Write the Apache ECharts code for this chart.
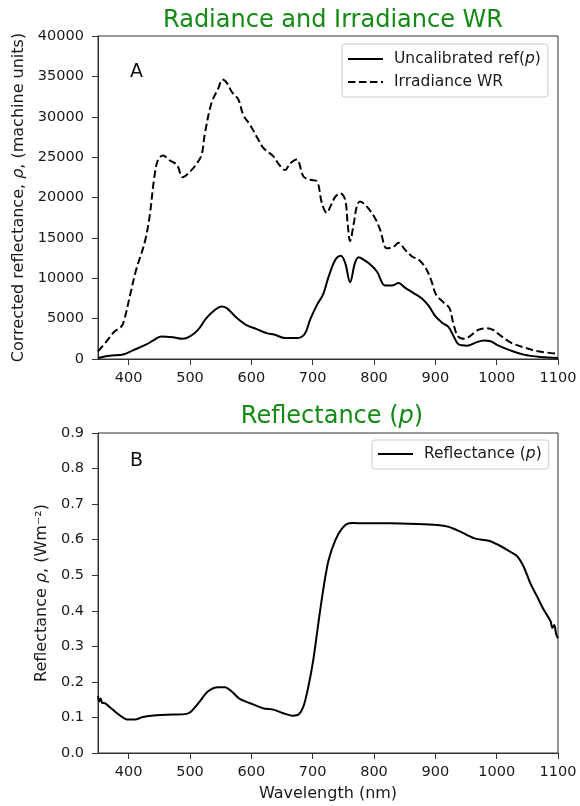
<!DOCTYPE html>
<html>
<head>
<meta charset="utf-8">
<script src="https://cdn.jsdelivr.net/npm/echarts@6/dist/echarts.min.js"></script>
<style>
html,body{margin:0;padding:0;background:#fff;}
#chart{width:580px;height:806px;}
</style>
</head>
<body>
<div id="chart"></div>
<script>
// ---- Data ----
const xTicks = [400, 500, 600, 700, 800, 900, 1000, 1100];

// Panel A: Uncalibrated ref(p) (solid)
const uncalWave = [350,369,391,407,429,440,453,472,488,500,513,527,541,551,560,576,592,609,625,638,655,674,687,696,707,717,726,737,746,753,761,769,775,783,794,805,818,829,840,851,864,878,889,900,911,921,930,938,952,965,979,990,1003,1022,1044,1071,1100];
const uncalVals = [120,400,550,1070,1800,2300,2800,2700,2500,2800,3600,5100,6100,6500,6300,5100,4200,3700,3200,3000,2600,2600,3100,4900,6700,8000,10200,12300,12800,11900,9500,11900,12600,12300,11700,10800,9100,9100,9400,8800,8200,7500,6600,5300,4500,4000,2800,1800,1650,2000,2300,2200,1650,1070,540,250,120];

// Panel A: Irradiance WR (dashed)
const irrWave = [350,364,377,388,393,402,412,426,434,442,448,456,467,479,488,500,511,519,524,535,546,553,560,568,579,587,598,609,620,636,644,655,663,674,685,696,707,715,723,729,737,745,753,757,761,767,772,777,788,802,810,821,832,840,851,862,873,884,893,901,912,923,929,937,948,956,970,983,994,1008,1024,1046,1068,1100];
const irrVals = [950,2200,3400,4000,4900,7800,11000,14400,17600,22600,24700,25200,24600,24000,22500,23200,24200,25300,27800,31700,33500,34600,34200,33100,32100,30200,29000,27500,26100,25100,24200,23400,24200,24700,22600,22200,22000,19300,18100,18900,20100,20500,19700,16800,14600,16800,18900,19500,18900,17400,16000,13700,13900,14400,13500,12700,12300,11300,9800,8000,7100,6300,4500,2800,2500,2800,3600,3800,3600,2800,2000,1400,950,650];

// Panel B: Reflectance (p)
const reflWave = [350,352,354,357,361,374,388,399,410,423,445,472,494,502,516,529,546,557,568,581,598,619,636,652,668,677,685,693,701,710,718,726,737,748,759,767,783,826,870,903,922,935,952,965,987,1003,1019,1033,1044,1055,1066,1077,1085,1088,1091,1094,1097,1100];
const reflVals = [0.160,0.145,0.153,0.141,0.140,0.122,0.103,0.094,0.094,0.101,0.106,0.108,0.110,0.117,0.145,0.173,0.185,0.185,0.173,0.152,0.140,0.126,0.122,0.112,0.105,0.108,0.131,0.187,0.262,0.374,0.468,0.543,0.599,0.632,0.646,0.647,0.646,0.646,0.644,0.641,0.636,0.627,0.613,0.603,0.597,0.585,0.569,0.554,0.524,0.477,0.440,0.402,0.380,0.370,0.352,0.360,0.334,0.323];

const yTicksA = {min: 0, max: 40000, interval: 5000};
const yTicksB = {min: 0, max: 0.9, interval: 0.1};

// ---- Chart ----
const pair = (xs, ys) => xs.map((x, i) => [x, ys[i]]);
const FONT = 'DejaVu Sans';
const TXT = '#1a1a1a';
const GREEN = '#138a13';
const TICK_FS = 14.5;
const LAB_FS = 16;
const LEG_FS = 15.5;

const chart = echarts.init(document.getElementById('chart'), null, {renderer: 'canvas'});

function xAxisFor(gridIndex, withName) {
  return {
    type: 'value', gridIndex, min: 350, max: 1100,
    splitLine: {show: false},
    axisLine: {show: true, lineStyle: {color: '#333', width: 1}},
    axisTick: {show: true, length: 6, lineStyle: {color: '#333'}, customValues: xTicks},
    axisLabel: {color: TXT, fontFamily: FONT, fontSize: TICK_FS, margin: 12, customValues: xTicks,
      formatter: v => String(v)},
    name: withName ? 'Wavelength (nm)' : '',
    nameLocation: 'middle', nameGap: 33,
    nameTextStyle: {color: TXT, fontFamily: FONT, fontSize: LAB_FS}
  };
}

function yAxisFor(gridIndex, range, fmt, name, gap) {
  return {
    type: 'value', gridIndex, min: range.min, max: range.max, interval: range.interval,
    splitLine: {show: false},
    axisLine: {show: true, lineStyle: {color: '#333'}},
    axisTick: {show: true, length: 6, lineStyle: {color: '#333'}},
    axisLabel: {color: TXT, fontFamily: FONT, fontSize: TICK_FS, margin: 14, formatter: fmt},
    name, nameLocation: 'middle', nameGap: gap,
    nameTextStyle: {color: TXT, fontFamily: FONT, fontSize: LAB_FS,
      rich: {i: {fontStyle: 'italic', color: TXT, fontFamily: FONT, fontSize: LAB_FS}}}
  };
}

const legendText = {color: TXT, fontFamily: FONT, fontSize: LEG_FS, padding: [0, 0, 0, 6],
  rich: {i: {fontStyle: 'italic', color: TXT, fontFamily: FONT, fontSize: LEG_FS}}};

const option = {
  animation: false,
  backgroundColor: '#fff',
  title: [
    {text: 'Radiance and Irradiance WR', left: 328, top: 4, textAlign: 'center',
     textStyle: {color: GREEN, fontFamily: FONT, fontSize: 24, fontWeight: 'normal'}},
    {text: 'Reflectance ({i|p})', left: 327, top: 400, textAlign: 'center',
     textStyle: {color: GREEN, fontFamily: FONT, fontSize: 24, fontWeight: 'normal',
       rich: {i: {fontStyle: 'italic', color: GREEN, fontFamily: FONT, fontSize: 24}}}},
    {text: 'A', left: 125, top: 58, textStyle: {color: '#111', fontFamily: FONT, fontSize: 19, fontWeight: 'normal'}},
    {text: 'B', left: 125, top: 447, textStyle: {color: '#111', fontFamily: FONT, fontSize: 19, fontWeight: 'normal'}}
  ],
  grid: [
    {left: 98, top: 36, width: 460, height: 323, show: true, borderColor: '#333', borderWidth: 1, backgroundColor: 'transparent'},
    {left: 98, top: 433, width: 460, height: 320, show: true, borderColor: '#333', borderWidth: 1, backgroundColor: 'transparent'}
  ],
  xAxis: [xAxisFor(0, false), xAxisFor(1, true)],
  yAxis: [
    yAxisFor(0, yTicksA, v => String(v), 'Corrected reflectance, {i|ρ}, (machine units)', 65),
    yAxisFor(1, yTicksB, v => v.toFixed(1), 'Reflectance {i|ρ}, (Wm⁻²)', 44)
  ],
  legend: [
    {data: ['Uncalibrated ref(p)', 'Irradiance WR'], orient: 'vertical', left: 342, top: 44,
     padding: [7, 7, 7, 5], itemGap: 7, itemWidth: 35, itemHeight: 14,
     itemStyle: {opacity: 0},
     backgroundColor: '#fff', borderColor: '#ccc', borderWidth: 1, borderRadius: 3,
     formatter: n => n === 'Uncalibrated ref(p)' ? 'Uncalibrated ref({i|p})' : n,
     textStyle: legendText},
    {data: ['Reflectance (p)'], orient: 'vertical', left: 372, top: 440,
     padding: [6, 7, 7, 5], itemWidth: 35, itemHeight: 14,
     itemStyle: {opacity: 0},
     backgroundColor: '#fff', borderColor: '#ccc', borderWidth: 1, borderRadius: 3,
     formatter: () => 'Reflectance ({i|p})',
     textStyle: legendText}
  ],
  series: [
    {name: 'Uncalibrated ref(p)', type: 'line', xAxisIndex: 0, yAxisIndex: 0,
     data: pair(uncalWave, uncalVals), smooth: 0.35, symbol: 'none',
     lineStyle: {color: '#000', width: 2}, itemStyle: {color: '#000'}},
    {name: 'Irradiance WR', type: 'line', xAxisIndex: 0, yAxisIndex: 0,
     data: pair(irrWave, irrVals), smooth: 0.35, symbol: 'none',
     lineStyle: {color: '#000', width: 2, type: [7.5, 3.5]}, itemStyle: {color: '#000'}},
    {name: 'Reflectance (p)', type: 'line', xAxisIndex: 1, yAxisIndex: 1,
     data: pair(reflWave, reflVals), smooth: 0.3, symbol: 'none',
     lineStyle: {color: '#000', width: 2}, itemStyle: {color: '#000'}}
  ]
};
chart.setOption(option);
</script>
</body>
</html>
